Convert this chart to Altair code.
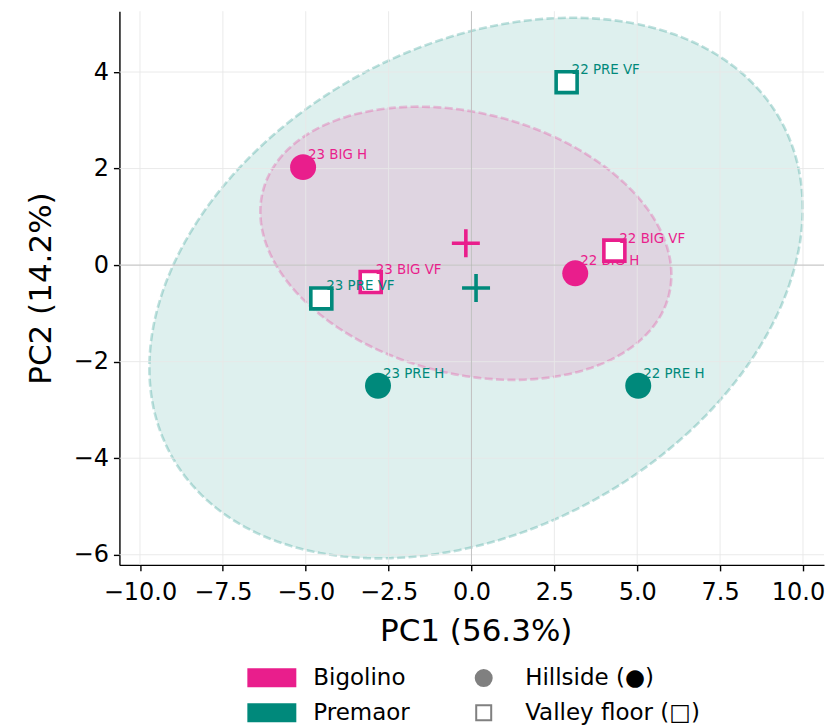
import altair as alt
import numpy as np
import pandas as pd

# ---------------- data ----------------
sample = ["22 BIG H", "22 BIG VF", "23 BIG H", "23 BIG VF",
          "22 PRE H", "22 PRE VF", "23 PRE H", "23 PRE VF"]
producer = ["Bigolino", "Bigolino", "Bigolino", "Bigolino",
            "Premaor", "Premaor", "Premaor", "Premaor"]
site = ["Hillside", "Valley floor", "Hillside", "Valley floor",
        "Hillside", "Valley floor", "Hillside", "Valley floor"]
pc1 = [3.13, 4.31, -5.08, -3.04, 5.03, 2.87, -2.82, -4.53]
pc2 = [-0.17, 0.30, 2.03, -0.35, -2.50, 3.79, -2.50, -0.69]

groups = ["Bigolino", "Premaor"]
group_colors = ["#E91E8C", "#00897B"]
# confidence-ellipse extents (half width in PC1, half height in PC2, tilt as correlation)
ell_half_x = [6.20, 9.855]
ell_half_y = [2.83, 5.60]
ell_corr = [-0.231, 0.295]

x_ticks = [-10, -7.5, -5, -2.5, 0, 2.5, 5, 7.5, 10]
y_ticks = [-6, -4, -2, 0, 2, 4]
zero_line = [0]
x_domain = [-10.62, 10.634]
y_domain = [-6.21, 5.26]
x_title = "PC1 (56.3%)"
y_title = "PC2 (14.2%)"

legend_keys = ["Bigolino", "Premaor", "Hillside (●)", "Valley floor (□)"]
legend_fill = ["#E91E8C", "#00897B", "#808080", "#ffffff"]
legend_stroke = ["#E91E8C", "#00897B", "#808080", "#808080"]

# ---------------- tables ----------------
df = pd.DataFrame({"sample": sample, "group": producer, "site": site,
                   "pc1": pc1, "pc2": pc2})
cent = df.groupby("group", as_index=False)[["pc1", "pc2"]].mean()

area_rows, line_rows = [], []
for g, hx, hy, r in zip(groups, ell_half_x, ell_half_y, ell_corr):
    cx = float(cent.loc[cent.group == g, "pc1"].iloc[0])
    cy = float(cent.loc[cent.group == g, "pc2"].iloc[0])
    q = np.sqrt(1 - r * r)
    t = np.linspace(0, 2 * np.pi, 241)
    for i, tt in enumerate(t):
        line_rows.append({"group": g, "i": i,
                          "x": cx + hx * np.cos(tt),
                          "y": cy + hy * (r * np.cos(tt) + q * np.sin(tt))})
    th = np.linspace(np.pi, 0, 181)
    for i, tt in enumerate(th):
        area_rows.append({"group": g, "i": i,
                          "x": cx + hx * np.cos(tt),
                          "y": cy + hy * (r * np.cos(tt) + q * np.sin(tt)),
                          "y2": cy + hy * (r * np.cos(tt) - q * np.sin(tt))})
area_df = pd.DataFrame(area_rows)
line_df = pd.DataFrame(line_rows)

# ---------------- scales / axes ----------------
xs = alt.Scale(domain=x_domain, nice=False, zero=False)
ys = alt.Scale(domain=y_domain, nice=False, zero=False)
x_axis = alt.Axis(values=x_ticks, format=".1f", title=x_title, grid=False,
                  labelPadding=10, titlePadding=12, titleX=356.5,
                  labelOffset={"condition": {"test": "datum.value == 10", "value": -5}, "value": 0})
y_axis = alt.Axis(values=y_ticks, format="d", title=y_title, grid=False,
                  labelPadding=5, titlePadding=16)
cscale = alt.Scale(domain=groups, range=group_colors)


def X(f):
    return alt.X(f, type="quantitative", scale=xs, axis=x_axis)


def Y(f, **kw):
    return alt.Y(f, type="quantitative", scale=ys, axis=y_axis, **kw)


col = alt.Color("group:N", scale=cscale, legend=None)

layers = []
for g, c in [("Premaor", group_colors[1]), ("Bigolino", group_colors[0])]:
    layers.append(
        alt.Chart(area_df).transform_filter(alt.datum.group == g)
        .mark_area(color=c, opacity=0.13)
        .encode(x=X("x"), y=Y("y", stack=None), y2="y2:Q")
    )
    layers.append(
        alt.Chart(line_df).transform_filter(alt.datum.group == g)
        .mark_line(color=c, strokeWidth=2.6, strokeDash=[8, 3.4], opacity=0.25)
        .encode(x=X("x"), y=Y("y"), order="i:Q")
    )

# grid lines
layers.append(alt.Chart(pd.DataFrame({"v": x_ticks})).mark_rule(
    color="#e8e8e8", strokeWidth=1, opacity=0.9).encode(x=X("v")))
layers.append(alt.Chart(pd.DataFrame({"v": y_ticks})).mark_rule(
    color="#e8e8e8", strokeWidth=1, opacity=0.9).encode(y=Y("v")))
# zero lines
layers.append(alt.Chart(pd.DataFrame({"v": zero_line})).mark_rule(
    color="#b8b8b8", strokeWidth=1, opacity=0.8).encode(x=X("v")))
layers.append(alt.Chart(pd.DataFrame({"v": zero_line})).mark_rule(
    color="#b8b8b8", strokeWidth=1, opacity=0.8).encode(y=Y("v")))

# samples: marker then label, in plotting order
for s, st in zip(sample, site):
    base = alt.Chart(df).transform_filter(alt.datum.sample == s)
    if st == "Hillside":
        mk = base.mark_point(shape="circle", filled=True, size=676, opacity=1)
    else:
        mk = base.mark_point(shape="square", filled=False, fill="white",
                             size=441, strokeWidth=3.6, opacity=1)
    layers.append(mk.encode(x=X("pc1"), y=Y("pc2"), color=col))
    layers.append(
        base.mark_text(align="left", baseline="alphabetic", dx=5, dy=-8,
                       fontSize=13.4, font="DejaVu Sans")
        .encode(x=X("pc1"), y=Y("pc2"), text="sample:N", color=col)
    )

# centroids
layers.append(
    alt.Chart(cent).mark_point(shape="M-1,0L1,0M0,-1L0,1", filled=False,
                               size=784, strokeWidth=3.6, opacity=1)
    .encode(x=X("pc1"), y=Y("pc2"), color=col)
)

# legend carrier (symbol paths in units of sqrt(size)/2 = 10 px)
S = 20
unit = S / 2.0


def rect_path(hw, hh):
    return f"M{-hw},{-hh}L{hw},{-hh}L{hw},{hh}L{-hw},{hh}Z"


rpath = rect_path(23.5 / unit, 8.5 / unit)
cr = 8.0 / unit
cpath = f"M{cr},0A{cr},{cr},0,1,1,{-cr},0A{cr},{cr},0,1,1,{cr},0Z"
spath = rect_path(7.5 / unit, 7.5 / unit)
legend_shapes = [rpath, rpath, cpath, spath]

leg = alt.Legend(title=None, orient="none", legendX=141, legendY=655.5,
                 columns=2, columnPadding=61, rowPadding=10,
                 symbolSize=S * S, symbolStrokeWidth=2,
                 labelFontSize=23, labelOffset=30, labelLimit=400,
                 padding=0, symbolOpacity=1, labelColor="black",
                 labelFont="DejaVu Sans")
layers.append(
    alt.Chart(df).transform_calculate(key="datum.group")
    .mark_point(opacity=0, filled=True, size=20)
    .encode(
        x=X("pc1"), y=Y("pc2"),
        fill=alt.Fill("key:N", scale=alt.Scale(domain=legend_keys, range=legend_fill), legend=leg),
        stroke=alt.Stroke("key:N", scale=alt.Scale(domain=legend_keys, range=legend_stroke), legend=leg),
        shape=alt.Shape("key:N", scale=alt.Scale(domain=legend_keys, range=legend_shapes), legend=leg),
    )
)

chart = (
    alt.layer(*layers)
    .properties(width=705, height=554,
                padding={"left": 16.5, "top": 2, "right": 0, "bottom": 0})
    .configure_view(stroke=None)
    .configure_axis(
        labelFont="DejaVu Sans", titleFont="DejaVu Sans",
        labelFontSize=24, titleFontSize=31, titleFontWeight="normal",
        labelColor="black", titleColor="black",
        domainColor="black", domainWidth=1.4,
        tickColor="black", tickWidth=1.4, tickSize=6,
    )
    .configure_text(font="DejaVu Sans")
)

chart.save("out.html", embed_options={"renderer": "svg", "actions": False})
